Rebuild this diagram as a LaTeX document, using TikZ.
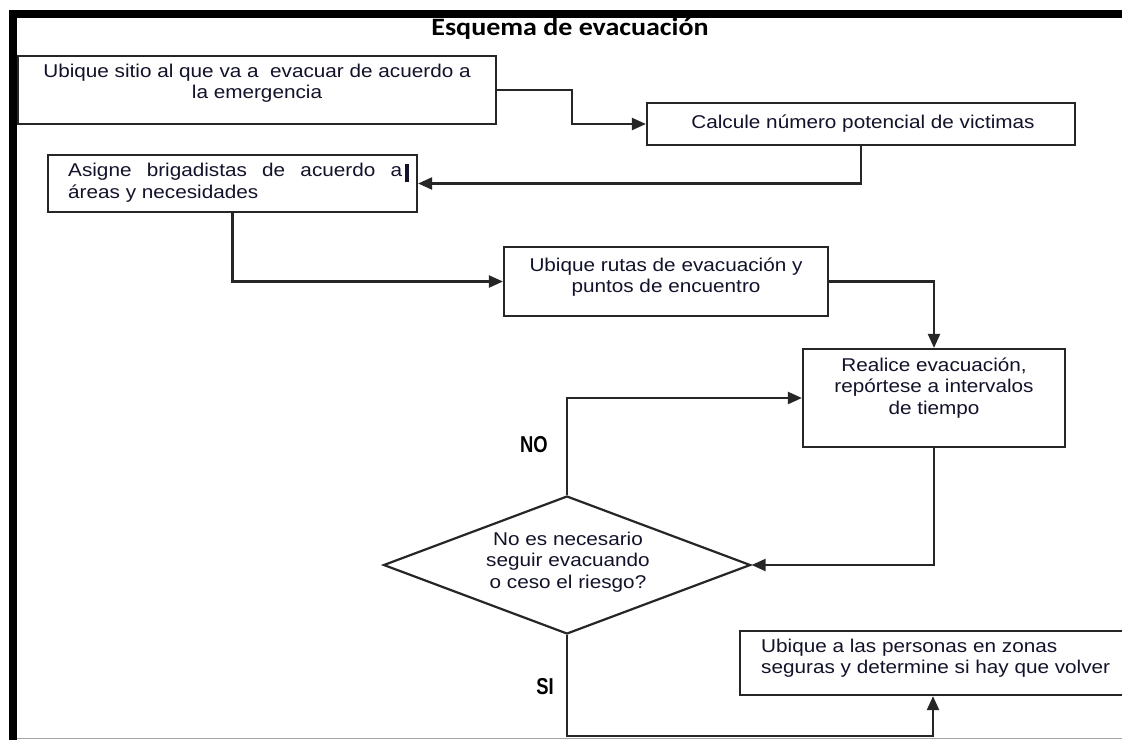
\documentclass[tikz,border=0pt]{standalone}
\usepackage{fontspec}
\setmainfont{Liberation Sans}[FakeStretch=1.12]
\newfontfamily\titlefont{Carlito}[FakeStretch=1.12]
\newfontfamily\narrowfont{Liberation Sans}[FakeStretch=0.8]
\usetikzlibrary{arrows.meta,shapes.geometric}
\definecolor{linec}{HTML}{262626}
\definecolor{textc}{HTML}{12122A}
\tikzset{
  boxnode/.style={draw=linec, line width=2.2pt, rectangle, inner sep=0pt},
  txt/.style={text=textc, inner sep=0pt, font=\fontsize{18.5}{21.5}\selectfont},
  conn/.style={draw=linec, line width=2.2pt, -{Triangle[length=14pt,width=12pt]}},
  lbl/.style={inner sep=0pt, text=black, font=\narrowfont\bfseries\fontsize{23}{26}\selectfont}
}
\begin{document}
\begin{tikzpicture}[x=1pt,y=-1pt]
\useasboundingbox (0,0) rectangle (1122,740);
\fill[white] (0,0) rectangle (1122,740);
% frame
\fill[black] (9,10) rectangle (1122,17.5);
\fill[black] (9,10) rectangle (16.5,740);
\draw[gray!70, line width=1pt] (16.5,738.5) -- (1122,738.5);

% title
\node[inner sep=0pt, font=\titlefont\bfseries\fontsize{25}{28}\selectfont] (title) at (570,29) {Esquema de evacuación};

% boxes
\node[boxnode, minimum width=478pt, minimum height=68pt] (b1) at (257,90) {};
\node[txt, align=center] (b1t) at (257,83) {Ubique sitio al que va a\ \ evacuar de acuerdo a\\la emergencia};

\node[boxnode, minimum width=428pt, minimum height=42pt] (calc) at (861,124) {};
\node[txt] (calct) at (863,124) {Calcule número potencial de victimas};

\node[boxnode, minimum width=369pt, minimum height=57pt] (asig) at (232.5,183.5) {};
\node[txt, align=left, anchor=west] (asigt) at (68,182.5) {\makebox[334pt][s]{Asigne brigadistas de acuerdo a}\hspace{3pt}\rule[-5pt]{3.5pt}{18pt}\\áreas y necesidades};

\node[boxnode, minimum width=324pt, minimum height=69pt] (rutas) at (666,281.5) {};
\node[txt, align=center] (rutast) at (666,277) {Ubique rutas de evacuación y\\puntos de encuentro};

\node[boxnode, minimum width=262pt, minimum height=98pt] (real) at (934,398) {};
\node[txt, align=center] (realt) at (934,388) {Realice evacuación,\\repórtese a intervalos\\de tiempo};

\node[boxnode, diamond, aspect=2.66, minimum width=367pt, minimum height=138pt] (dia) at (567,565) {};
\node[txt, align=center] (diat) at (568,562) {No es necesario\\seguir evacuando\\o ceso el riesgo?};

\node[boxnode, minimum width=386pt, minimum height=64pt] (pers) at (933,663) {};
\node[txt, align=left, anchor=west] (perst) at (761,658) {Ubique a las personas en zonas\\seguras y determine si hay que volver};

% labels
\node[lbl] (no) at (534,445) {NO};
\node[lbl] (si) at (545,687) {SI};

% connectors
\draw[conn] (b1.east) -- (572,90) -- (572,124) -- (calc.west);
\draw[conn] (calc.south) -- (861,183.5) -- (asig.east);
\draw[conn] (asig.south) -- (232.5,281.5) -- (rutas.west);
\draw[conn] (rutas.east) -- (934,281.5) -- (real.north);
\draw[conn] (real.south) -- (934,565) -- (dia.east);
\draw[conn] (dia.north) -- (567,398) -- (real.west);
\draw[conn] (dia.south) -- (567,736) -- (933,736) -- (pers.south);
\end{tikzpicture}
\end{document}
